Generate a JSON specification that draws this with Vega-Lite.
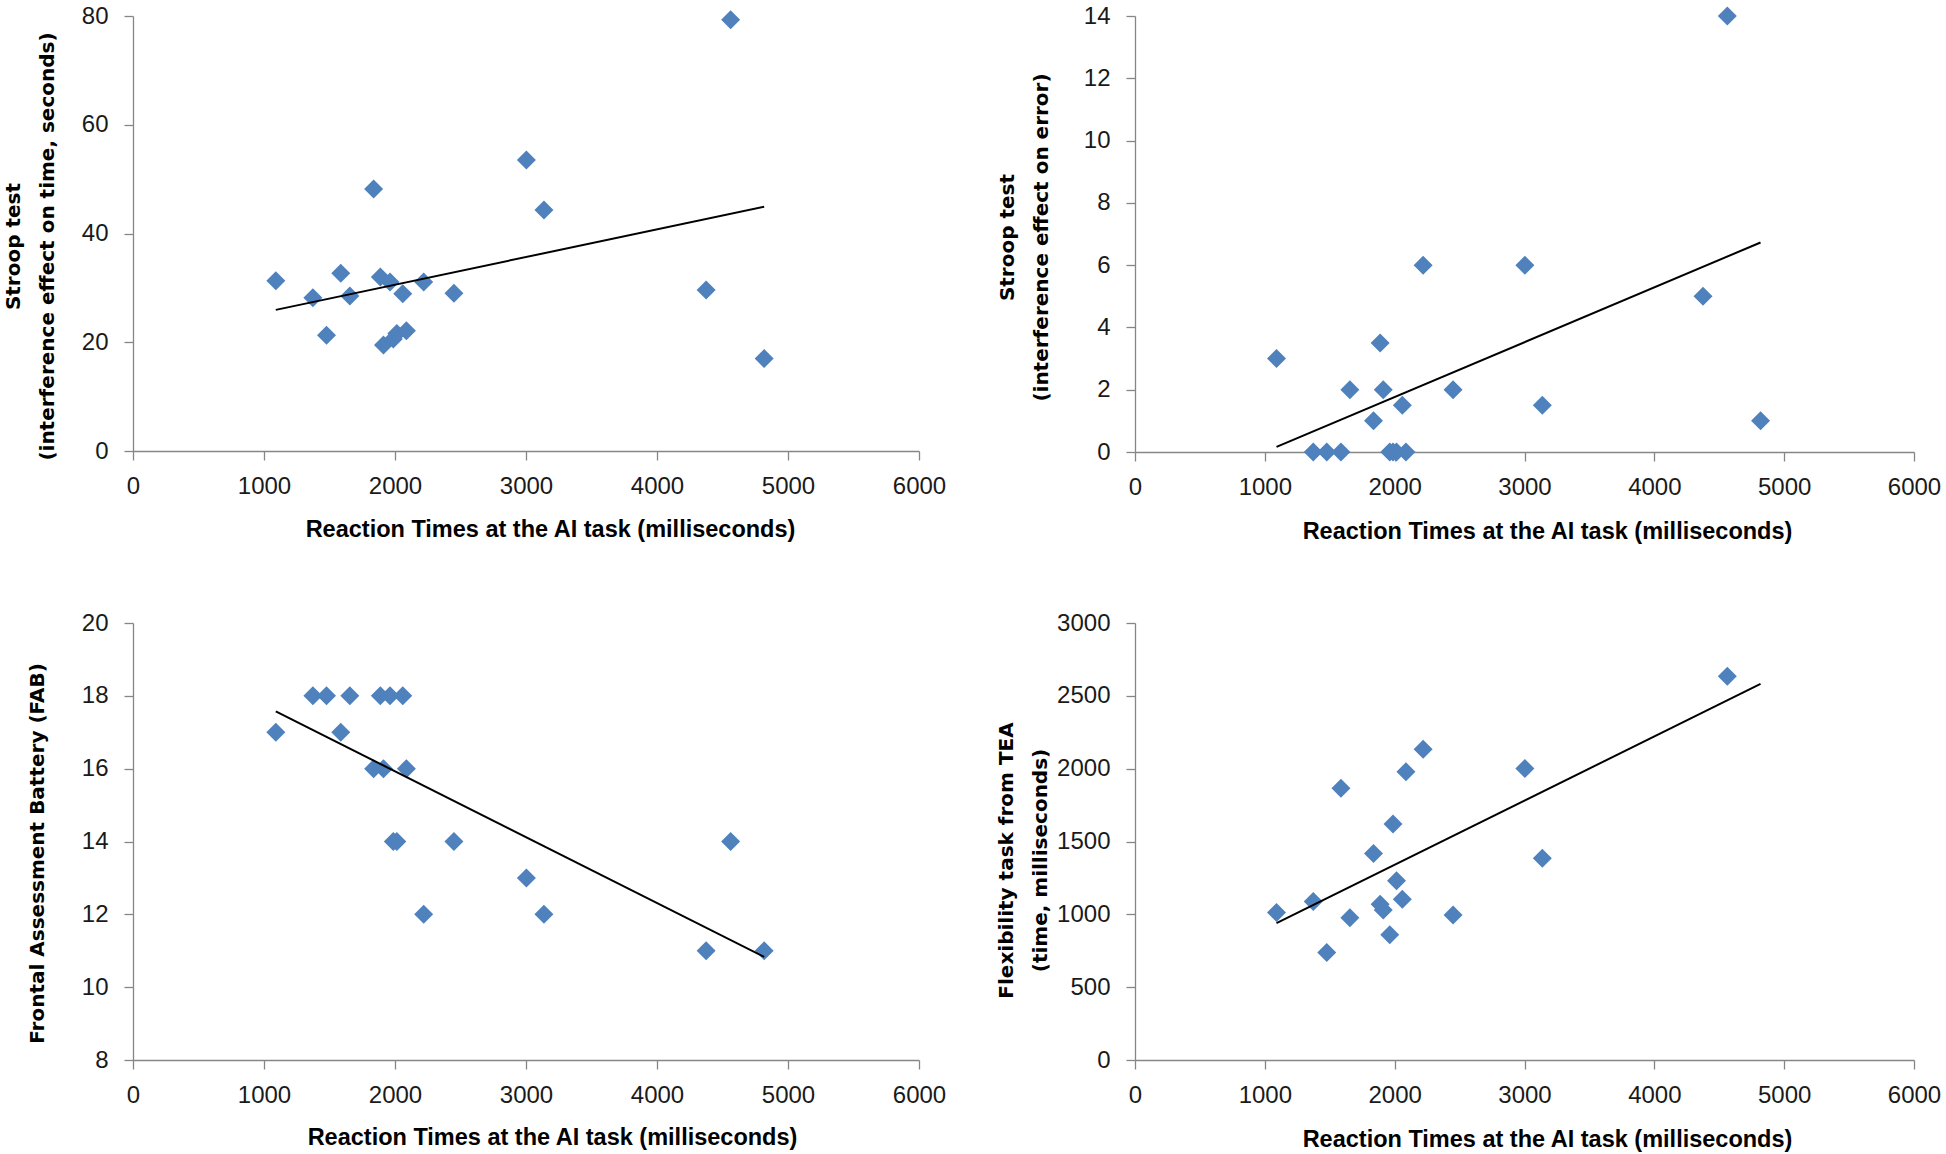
{
  "$schema": "https://vega.github.io/schema/vega-lite/v6.json",
  "autosize": {"type": "none"},
  "padding": {"left": 133, "top": 16, "right": 1813, "bottom": 1138},
  "background": "white",
  "datasets": {
    "d": [
      {"rt": 1090, "stroop_time": 31.3, "stroop_err": 3, "fab": 17, "flex": 1012},
      {"rt": 1373, "stroop_time": 28.2, "stroop_err": 0, "fab": 18, "flex": 1088},
      {"rt": 1477, "stroop_time": 21.3, "stroop_err": 0, "fab": 18, "flex": 738},
      {"rt": 1586, "stroop_time": 32.7, "stroop_err": 0, "fab": 17, "flex": 1865},
      {"rt": 1655, "stroop_time": 28.5, "stroop_err": 2, "fab": 18, "flex": 976},
      {"rt": 1837, "stroop_time": 48.2, "stroop_err": 1, "fab": 16, "flex": 1418},
      {"rt": 1888, "stroop_time": 32.0, "stroop_err": 3.5, "fab": 18, "flex": 1069},
      {"rt": 1912, "stroop_time": 19.5, "stroop_err": 2, "fab": 16, "flex": 1030},
      {"rt": 1962, "stroop_time": 31.1, "stroop_err": 0, "fab": 18, "flex": 859},
      {"rt": 1987, "stroop_time": 20.6, "stroop_err": 0, "fab": 14, "flex": 1620},
      {"rt": 2014, "stroop_time": 21.6, "stroop_err": 0, "fab": 14, "flex": 1230},
      {"rt": 2059, "stroop_time": 28.9, "stroop_err": 1.5, "fab": 18, "flex": 1103},
      {"rt": 2087, "stroop_time": 22.1, "stroop_err": 0, "fab": 16, "flex": 1979},
      {"rt": 2219, "stroop_time": 31.1, "stroop_err": 6, "fab": 12, "flex": 2134},
      {"rt": 2450, "stroop_time": 29.0, "stroop_err": 2, "fab": 14, "flex": 996},
      {"rt": 3003, "stroop_time": 53.5, "stroop_err": 6, "fab": 13, "flex": 2001},
      {"rt": 3137, "stroop_time": 44.3, "stroop_err": 1.5, "fab": 12, "flex": 1385},
      {"rt": 4375, "stroop_time": 29.6, "stroop_err": 5, "fab": 11, "flex": null},
      {"rt": 4562, "stroop_time": 79.3, "stroop_err": 14, "fab": 14, "flex": 2634},
      {"rt": 4818, "stroop_time": 17.0, "stroop_err": 1, "fab": 11, "flex": null}
    ]
  },
  "config": {
    "view": {"stroke": null},
    "axis": {
      "grid": false,
      "domainColor": "#868686",
      "domainWidth": 1.3,
      "tickColor": "#868686",
      "tickWidth": 1.3,
      "tickSize": 9,
      "labelFont": "Liberation Sans",
      "labelFontSize": 24,
      "labelColor": "#1a1a1a",
      "labelFlush": false,
      "labelOverlap": false,
      "titleColor": "#000000",
      "format": "d"
    },
    "axisX": {
      "labelPadding": 14,
      "titleFont": "Liberation Sans",
      "titleFontSize": 23.5,
      "titleFontWeight": "bold",
      "titleBaseline": "top"
    },
    "axisY": {
      "labelPadding": 16,
      "titleFont": "DejaVu Sans",
      "titleFontSize": 20,
      "titleFontWeight": "bold",
      "titleLineHeight": 34,
      "titleBaseline": "bottom",
      "titleAlign": "center",
      "titleAngle": 270
    }
  },
  "columns": 2,
  "bounds": "flush",
  "align": "all",
  "spacing": {"row": 170, "column": 216},
  "concat": [
    {
      "width": 786,
      "height": 435,
      "data": {"name": "d"},
      "layer": [
        {
          "mark": {"type": "point", "shape": "diamond", "filled": true, "size": 361, "color": "#4F81BD", "opacity": 1},
          "encoding": {
            "x": {"field": "rt", "type": "quantitative", "title": "Reaction Times at the AI task (milliseconds)",
                  "scale": {"domain": [0, 6000], "nice": false, "zero": true},
                  "axis": {"values": [0, 1000, 2000, 3000, 4000, 5000, 6000], "titleX": 417, "titleY": 66}},
            "y": {"field": "stroop_time", "type": "quantitative", "title": ["Stroop test", "(interference effect on time, seconds)"],
                  "scale": {"domain": [0, 80], "nice": false},
                  "axis": {"values": [0, 20, 40, 60, 80], "titleX": -110, "titleY": 230}}
          }
        },
        {
          "transform": [{"regression": "stroop_time", "on": "rt"}],
          "mark": {"type": "line", "color": "#000000", "strokeWidth": 2},
          "encoding": {
            "x": {"field": "rt", "type": "quantitative", "title": "Reaction Times at the AI task (milliseconds)"},
            "y": {"field": "stroop_time", "type": "quantitative", "title": ["Stroop test", "(interference effect on time, seconds)"]}
          }
        }
      ]
    },
    {
      "width": 779,
      "height": 436,
      "data": {"name": "d"},
      "layer": [
        {
          "mark": {"type": "point", "shape": "diamond", "filled": true, "size": 361, "color": "#4F81BD", "opacity": 1},
          "encoding": {
            "x": {"field": "rt", "type": "quantitative", "title": "Reaction Times at the AI task (milliseconds)",
                  "scale": {"domain": [0, 6000], "nice": false, "zero": true},
                  "axis": {"values": [0, 1000, 2000, 3000, 4000, 5000, 6000], "titleX": 412, "titleY": 67}},
            "y": {"field": "stroop_err", "type": "quantitative", "title": ["Stroop test", "(interference effect on error)"],
                  "scale": {"domain": [0, 14], "nice": false},
                  "axis": {"values": [0, 2, 4, 6, 8, 10, 12, 14], "titleX": -118, "titleY": 221}}
          }
        },
        {
          "transform": [{"regression": "stroop_err", "on": "rt"}],
          "mark": {"type": "line", "color": "#000000", "strokeWidth": 2},
          "encoding": {
            "x": {"field": "rt", "type": "quantitative", "title": "Reaction Times at the AI task (milliseconds)"},
            "y": {"field": "stroop_err", "type": "quantitative", "title": ["Stroop test", "(interference effect on error)"]}
          }
        }
      ]
    },
    {
      "width": 786,
      "height": 437,
      "data": {"name": "d"},
      "layer": [
        {
          "mark": {"type": "point", "shape": "diamond", "filled": true, "size": 361, "color": "#4F81BD", "opacity": 1},
          "encoding": {
            "x": {"field": "rt", "type": "quantitative", "title": "Reaction Times at the AI task (milliseconds)",
                  "scale": {"domain": [0, 6000], "nice": false, "zero": true},
                  "axis": {"values": [0, 1000, 2000, 3000, 4000, 5000, 6000], "titleX": 419, "titleY": 65}},
            "y": {"field": "fab", "type": "quantitative", "title": "Frontal Assessment Battery (FAB)",
                  "scale": {"domain": [8, 20], "nice": false, "zero": false},
                  "axis": {"values": [8, 10, 12, 14, 16, 18, 20], "titleX": -86, "titleY": 230}}
          }
        },
        {
          "transform": [{"regression": "fab", "on": "rt"}],
          "mark": {"type": "line", "color": "#000000", "strokeWidth": 2},
          "encoding": {
            "x": {"field": "rt", "type": "quantitative", "title": "Reaction Times at the AI task (milliseconds)"},
            "y": {"field": "fab", "type": "quantitative", "title": "Frontal Assessment Battery (FAB)"}
          }
        }
      ]
    },
    {
      "width": 779,
      "height": 437,
      "data": {"name": "d"},
      "layer": [
        {
          "mark": {"type": "point", "shape": "diamond", "filled": true, "size": 361, "color": "#4F81BD", "opacity": 1},
          "encoding": {
            "x": {"field": "rt", "type": "quantitative", "title": "Reaction Times at the AI task (milliseconds)",
                  "scale": {"domain": [0, 6000], "nice": false, "zero": true},
                  "axis": {"values": [0, 1000, 2000, 3000, 4000, 5000, 6000], "titleX": 412, "titleY": 67}},
            "y": {"field": "flex", "type": "quantitative", "title": ["Flexibility task from TEA", "(time, milliseconds)"],
                  "scale": {"domain": [0, 3000], "nice": false},
                  "axis": {"values": [0, 500, 1000, 1500, 2000, 2500, 3000], "titleX": -119, "titleY": 237}}
          }
        },
        {
          "transform": [{"regression": "flex", "on": "rt", "extent": [1090, 4818]}],
          "mark": {"type": "line", "color": "#000000", "strokeWidth": 2},
          "encoding": {
            "x": {"field": "rt", "type": "quantitative", "title": "Reaction Times at the AI task (milliseconds)"},
            "y": {"field": "flex", "type": "quantitative", "title": ["Flexibility task from TEA", "(time, milliseconds)"]}
          }
        }
      ]
    }
  ]
}
